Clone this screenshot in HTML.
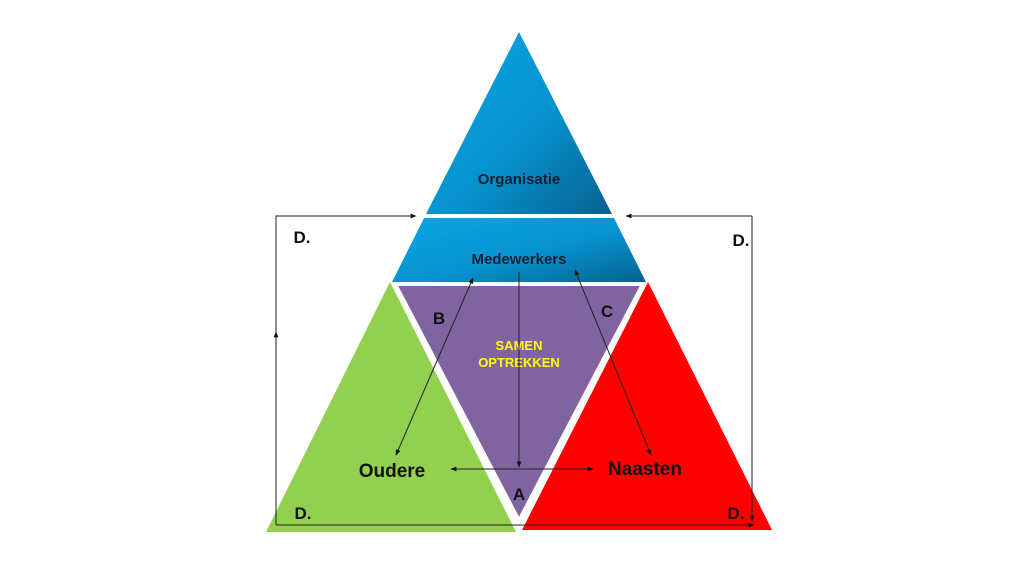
<!DOCTYPE html>
<html><head><meta charset="utf-8"><style>
html,body{margin:0;padding:0;background:#fff;}
svg{display:block;}
text{font-family:"Liberation Sans",sans-serif;font-weight:bold;}
</style></head><body>
<svg width="1024" height="576" viewBox="0 0 1024 576" xmlns="http://www.w3.org/2000/svg">
<defs>
<linearGradient id="bg" x1="0" y1="0" x2="1" y2="1">
<stop offset="0" stop-color="#0aa6e6"/><stop offset="0.55" stop-color="#0792cf"/><stop offset="1" stop-color="#05628e"/>
</linearGradient>
<marker id="ar" viewBox="0 0 10 10" refX="9" refY="5" markerWidth="6" markerHeight="6" orient="auto-start-reverse">
<path d="M0,1 L10,5 L0,9 z" fill="#111"/></marker>
</defs>
<polygon points="519,32 612,214 426,214" fill="url(#bg)"/>
<polygon points="424,218 614,218 646,282 392,282" fill="url(#bg)"/>
<polygon points="390,282 516,532 266,532" fill="#92d050"/>
<polygon points="648,282 772,530 522,530" fill="#ff0000"/>
<polygon points="395,284 643,284 519,521" fill="#8064a2" stroke="#fff" stroke-width="4" stroke-linejoin="miter"/>
<text x="519" y="184" font-size="15" text-anchor="middle" fill="#0d1f33">Organisatie</text>
<text x="519" y="264" font-size="15" text-anchor="middle" fill="#0d1f33">Medewerkers</text>
<text x="519" y="350" font-size="13" text-anchor="middle" fill="#ffff00">SAMEN</text>
<text x="519" y="367" font-size="13" text-anchor="middle" fill="#ffff00">OPTREKKEN</text>
<text x="439" y="324" font-size="17" text-anchor="middle" fill="#111">B</text>
<text x="607" y="317" font-size="17" text-anchor="middle" fill="#111">C</text>
<text x="519" y="500" font-size="17" text-anchor="middle" fill="#111">A</text>
<text x="392" y="477" font-size="19" text-anchor="middle" fill="#111">Oudere</text>
<text x="645" y="475" font-size="19" text-anchor="middle" fill="#111">Naasten</text>
<text x="302" y="243" font-size="17" text-anchor="middle" fill="#111">D.</text>
<text x="741" y="246" font-size="17" text-anchor="middle" fill="#111">D.</text>
<text x="303" y="519" font-size="17" text-anchor="middle" fill="#111">D.</text>
<text x="736" y="519" font-size="17" text-anchor="middle" fill="#111">D.</text>
<g stroke="#222" stroke-width="1" fill="none">
<polyline points="276,525 276,216 416,216" marker-end="url(#ar)"/>
<line x1="276" y1="340" x2="276" y2="332" marker-end="url(#ar)"/>
<line x1="276" y1="525" x2="754" y2="525" marker-end="url(#ar)"/>
<polyline points="752,216 752,521" marker-end="url(#ar)"/>
<line x1="752" y1="216" x2="626" y2="216" marker-end="url(#ar)"/>
<line x1="519" y1="272" x2="519" y2="467" marker-end="url(#ar)"/>
<line x1="451" y1="469" x2="593" y2="469" marker-start="url(#ar)" marker-end="url(#ar)"/>
<line x1="396" y1="455" x2="473" y2="278" marker-start="url(#ar)" marker-end="url(#ar)"/>
<line x1="575" y1="270" x2="651" y2="455" marker-start="url(#ar)" marker-end="url(#ar)"/>
</g>
</svg>
</body></html>
